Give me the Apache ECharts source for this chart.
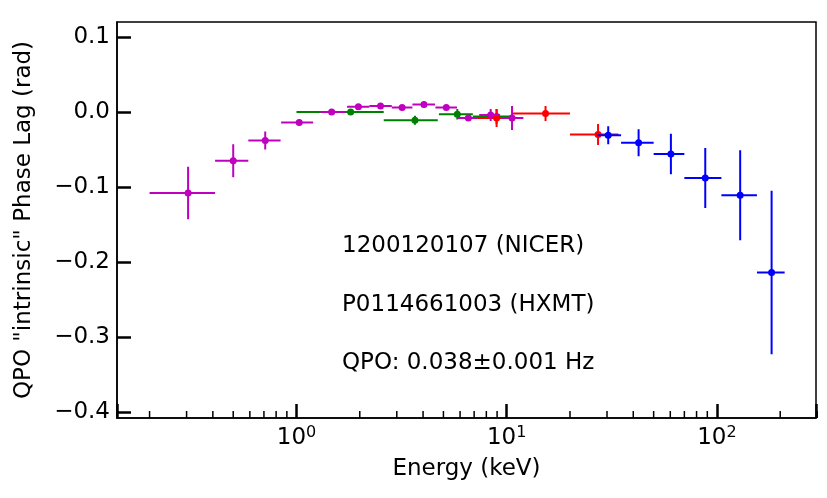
<!DOCTYPE html>
<html>
<head>
<meta charset="utf-8">
<script src="https://cdn.jsdelivr.net/npm/echarts@6/dist/echarts.min.js"></script>
<style>
  html, body { margin: 0; padding: 0; background: #fff; }
  #chart { width: 827px; height: 498px; }
</style>
</head>
<body>
<div id="chart"></div>
<script>
// NICER (magenta): energy, bin low, bin high, lag, lag error
const nicerE   = [0.305, 0.50, 0.71, 1.03, 1.47, 1.97, 2.51, 3.18, 4.04, 5.16, 6.57, 8.39, 10.6];
const nicerLo  = [0.20, 0.41, 0.59, 0.845, 1.30, 1.74, 2.22, 2.84, 3.56, 4.58, 5.85, 7.4, 9.4];
const nicerHi  = [0.41, 0.59, 0.84, 1.20, 1.70, 2.22, 2.84, 3.56, 4.56, 5.80, 7.3, 9.3, 12.0];
const nicerLag = [-0.108, -0.065, -0.038, -0.014, 0.000, 0.007, 0.008, 0.006, 0.010, 0.006, -0.008, -0.004, -0.008];
const nicerErr = [0.035, 0.022, 0.012, 0.004, 0.002, 0.003, 0.003, 0.003, 0.004, 0.003, 0.004, 0.008, 0.016];

// HXMT LE (green)
const leE   = [1.81, 3.66, 5.82, 8.95];
const leLo  = [1.0, 2.6, 4.76, 6.9];
const leHi  = [2.6, 4.7, 6.9, 10.4];
const leLag = [0.000, -0.011, -0.003, -0.006];
const leErr = [0.003, 0.006, 0.007, 0.010];

// HXMT ME (red)
const meE   = [8.95, 15.3, 27.2];
const meLo  = [6.9, 10.6, 20];
const meHi  = [10.5, 20, 34];
const meLag = [-0.008, -0.002, -0.030];
const meErr = [0.012, 0.010, 0.014];

// HXMT HE (blue)
const heE   = [30.4, 42.4, 60.4, 88, 129, 182];
const heLo  = [27, 35, 50, 70, 105, 155];
const heHi  = [35, 50, 70, 105, 155, 210];
const heLag = [-0.031, -0.041, -0.056, -0.088, -0.111, -0.214];
const heErr = [0.012, 0.018, 0.027, 0.040, 0.060, 0.109];

const minorTicks = [0.2, 0.3, 0.4, 0.5, 0.6, 0.7, 0.8, 0.9,
                    2, 3, 4, 5, 6, 7, 8, 9,
                    20, 30, 40, 50, 60, 70, 80, 90,
                    200, 300];

const notes = ['1200120107 (NICER)', 'P0114661003 (HXMT)', 'QPO: 0.038\u00b10.001 Hz'];

const X_MIN = 0.14, X_MAX = 296;
const Y_MIN = -0.408, Y_MAX = 0.12;
const FONT = 'DejaVu Sans';
const FS = 23;

function rows(e, lo, hi, lag, err) {
  return e.map((v, i) => [v, lo[i], hi[i], lag[i], err[i]]);
}

function errBars(color) {
  return function (params, api) {
    const x = api.value(0), y = api.value(3), dy = api.value(4);
    const c = api.coord([x, y]);
    const l = api.coord([api.value(1), y]);
    const r = api.coord([api.value(2), y]);
    const t = api.coord([x, y + dy]);
    const b = api.coord([x, y - dy]);
    return {
      type: 'group',
      children: [
        { type: 'line', shape: { x1: l[0], y1: l[1], x2: r[0], y2: r[1] }, style: { stroke: color, lineWidth: 2 } },
        { type: 'line', shape: { x1: t[0], y1: t[1], x2: b[0], y2: b[1] }, style: { stroke: color, lineWidth: 2 } },
        { type: 'circle', shape: { cx: c[0], cy: c[1], r: 3.5 }, style: { fill: color } }
      ]
    };
  };
}

function errSeries(data, color) {
  return {
    type: 'custom',
    renderItem: errBars(color),
    data: data,
    encode: { x: 0, y: 3 },
    clip: true,
    silent: true
  };
}

const chart = echarts.init(document.getElementById('chart'));

chart.setOption({
  backgroundColor: '#fff',
  animation: false,
  grid: {
    left: 117, right: 11, top: 22, bottom: 80,
    show: true, borderColor: '#000', borderWidth: 1.5
  },
  xAxis: {
    type: 'log',
    logBase: 10,
    min: X_MIN,
    max: X_MAX,
    name: 'Energy (keV)',
    nameLocation: 'middle',
    nameGap: 40,
    nameTextStyle: { fontFamily: FONT, fontSize: FS, color: '#000' },
    axisLine: { onZero: false, lineStyle: { color: '#000', width: 1.5 } },
    axisTick: { inside: true, length: 14, lineStyle: { color: '#000', width: 2.5 } },
    splitLine: { show: false },
    axisLabel: {
      margin: 7,
      fontFamily: FONT,
      fontSize: FS,
      color: '#000',
      formatter: function (v) {
        const n = Math.log10(v);
        if (Math.abs(n - Math.round(n)) > 1e-6) return '';
        return '{b|10}{s|' + Math.round(n) + '}';
      },
      rich: {
        b: { fontFamily: FONT, fontSize: FS, color: '#000' },
        s: { fontFamily: FONT, fontSize: 16, color: '#000', verticalAlign: 'bottom', padding: [0, 0, 11, 0] }
      }
    }
  },
  yAxis: {
    type: 'value',
    min: Y_MIN,
    max: Y_MAX,
    name: 'QPO "intrinsic" Phase Lag (rad)',
    nameLocation: 'middle',
    nameGap: 81,
    nameTextStyle: { fontFamily: FONT, fontSize: FS, color: '#000' },
    axisLine: { show: true, onZero: false, lineStyle: { color: '#000', width: 1.5 } },
    axisTick: { show: true, inside: true, length: 14, lineStyle: { color: '#000', width: 2.5 } },
    splitLine: { show: false },
    axisLabel: {
      margin: 7,
      fontFamily: FONT,
      fontSize: FS,
      color: '#000',
      showMinLabel: false,
      showMaxLabel: false,
      formatter: function (v) {
        const r = Math.round(v * 10) / 10;
        if (Math.abs(v - r) > 1e-6) return '';
        return r.toFixed(1).replace('-', '\u2212');
      }
    }
  },
  graphic: notes.map((t, i) => ({
    type: 'text',
    left: 342,
    top: 235 + i * 58.5,
    style: { text: t, fontFamily: FONT, fontSize: FS, fill: '#000' }
  })),
  series: [
    {
      type: 'custom',
      data: minorTicks.map(v => [v, Y_MIN]),
      encode: { x: 0, y: 1 },
      silent: true,
      renderItem: function (params, api) {
        const p = api.coord([api.value(0), api.value(1)]);
        return { type: 'line', shape: { x1: p[0], y1: p[1], x2: p[0], y2: p[1] - 7 }, style: { stroke: '#000', lineWidth: 1.5 } };
      }
    },
    errSeries(rows(leE, leLo, leHi, leLag, leErr), '#008000'),
    errSeries(rows(meE, meLo, meHi, meLag, meErr), '#ff0000'),
    errSeries(rows(heE, heLo, heHi, heLag, heErr), '#0000ff'),
    errSeries(rows(nicerE, nicerLo, nicerHi, nicerLag, nicerErr), '#bf00bf')
  ]
});
</script>
</body>
</html>
